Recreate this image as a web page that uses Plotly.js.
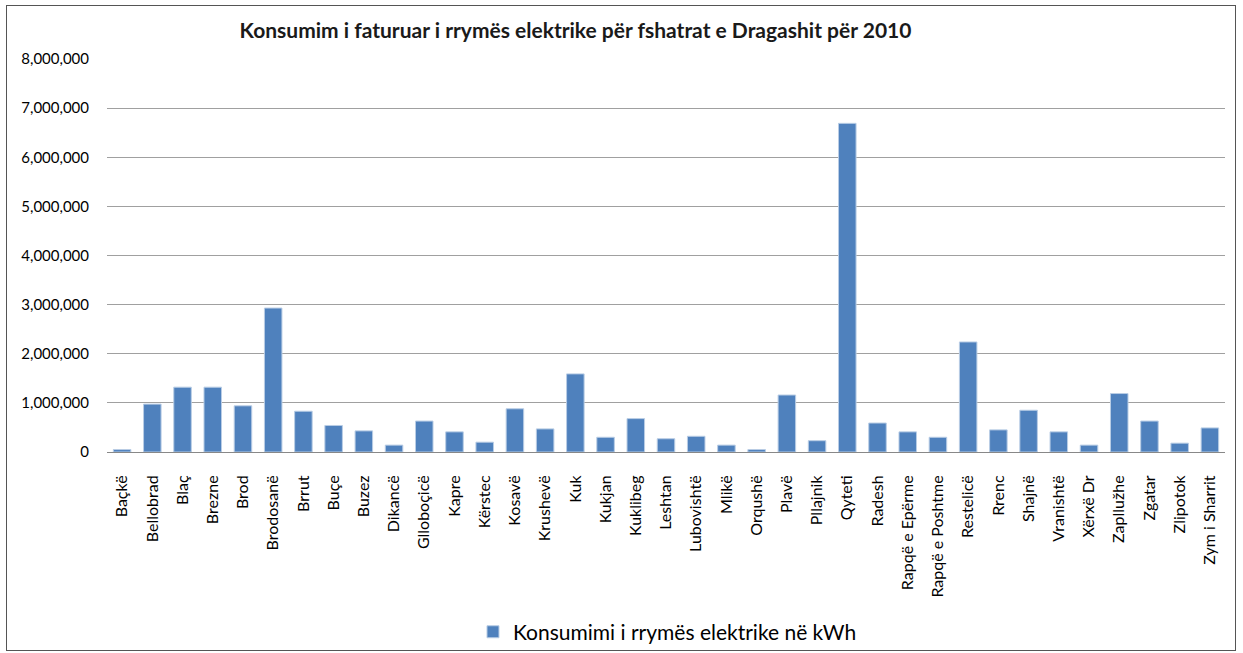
<!DOCTYPE html>
<html><head><meta charset="utf-8">
<script src="https://cdn.plot.ly/plotly-3.0.1.min.js"></script>
<style>
html,body{margin:0;padding:0;background:#fff;}
#frame{position:absolute;left:6px;top:5px;width:1230px;height:646px;border:1px solid #555;box-sizing:border-box;pointer-events:none;z-index:10;}
#chart{position:absolute;left:0;top:0;width:1243px;height:653px;}
</style></head>
<body>
<div id="chart"></div>
<div id="frame"></div>
<script>
const villages = ["Baçkë","Bellobrad","Blaç","Brezne","Brod","Brodosanë","Brrut","Buçe","Buzez","Dikancë","Gllobоçicë","Kapre","Kërstec","Kosavë","Krushevë","Kuk","Kukjan","Kuklibeg","Leshtan","Lubovishtë","Mlikë","Orqushë","Plavë","Pllajnik","Qyteti","Radesh","Rapqë e Epërme","Rapqë e Poshtme","Restelicë","Rrenc","Shajnë","Vranishtë","Xërxë Dr","Zapllužhe","Zgatar","Zlipotok","Zym i Sharrit"];
const consumptionKWh = [50000,975000,1320000,1320000,940000,2930000,830000,540000,430000,140000,630000,410000,200000,880000,470000,1590000,300000,680000,270000,320000,140000,50000,1160000,230000,6690000,590000,410000,300000,2240000,450000,850000,410000,140000,1190000,630000,180000,490000];
const seriesName = "Konsumimi i rrymës elektrike në kWh";
const chartTitle = "Konsumim i faturuar i rrymës elektrike për fshatrat e Dragashit për 2010";

const fontFam = "Lato, 'Open Sans', sans-serif";
Plotly.newPlot("chart", [{
  type: "bar",
  x: villages,
  y: consumptionKWh,
  name: seriesName,
  marker: {color: "#4F81BD", line: {color: "#B9CDE5", width: 1}},
  showlegend: true,
  hoverinfo: "x+y"
}], {
  width: 1243, height: 653,
  margin: {l: 107, r: 18, t: 59, b: 201},
  paper_bgcolor: "#fff", plot_bgcolor: "#fff",
  font: {family: fontFam, size: 15, color: "#000"},
  title: {text: "<b>" + chartTitle + "</b>", x: 0.463, xref: "container", y: 0.953, yref: "container", yanchor: "middle", font: {family: fontFam, size: 21, color: "#1a1a1a"}},
  bargap: 0.42,
  xaxis: {type: "category", tickangle: -90, tickfont: {size: 16, family: fontFam}, showline: true, linecolor: "#888", linewidth: 1, ticks: "outside", ticklen: 16, tickcolor: "rgba(0,0,0,0)", showgrid: false, automargin: false},
  yaxis: {range: [0, 8000000], dtick: 1000000, tickformat: ",d", gridcolor: "#A0A0A0", gridwidth: 1, zeroline: false, showline: false, ticks: "outside", ticklen: 14, tickcolor: "rgba(0,0,0,0)", tickfont: {size: 15, family: fontFam}, automargin: false},
  legend: {orientation: "h", x: 0.537, xref: "container", xanchor: "center", y: 0.032, yref: "container", yanchor: "middle", font: {size: 21, family: fontFam}},
}, {displayModeBar: false, staticPlot: true});
</script>
</body></html>
